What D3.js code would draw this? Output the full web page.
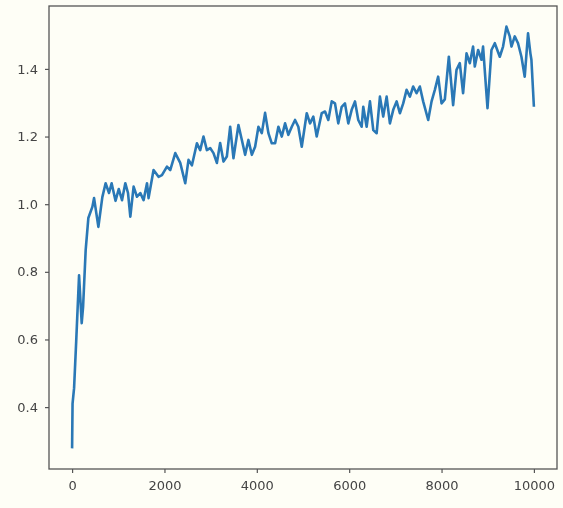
<!DOCTYPE html>
<html>
<head>
<meta charset="utf-8">
<script src="https://cdn.jsdelivr.net/npm/d3@7"></script>
<style>
  body { margin: 0; background: #fefef6; }
  text { font-family: "DejaVu Sans", sans-serif; }
</style>
</head>
<body>
<script>
// step values
var steps = [0, 10, 43, 93, 151, 208, 238, 294, 352, 439, 476, 569, 655, 726, 800, 856, 940, 1010,
  1081, 1152, 1211, 1261, 1332, 1405, 1477, 1548, 1622, 1656, 1764, 1872, 1946, 2054, 2125, 2234,
  2342, 2450, 2521, 2595, 2703, 2774, 2845, 2919, 2990, 3062, 3135, 3206, 3278, 3351, 3423, 3494,
  3602, 3676, 3747, 3818, 3892, 3963, 4035, 4108, 4179, 4251, 4324, 4396, 4467, 4541, 4612, 4683,
  4757, 4828, 4899, 4973, 5081, 5152, 5224, 5297, 5405, 5477, 5548, 5622, 5693, 5764, 5838, 5909,
  5981, 6054, 6126, 6197, 6270, 6305, 6378, 6450, 6522, 6595, 6666, 6737, 6811, 6882, 6954, 7027,
  7098, 7170, 7243, 7315, 7386, 7459, 7530, 7602, 7711, 7784, 7855, 7927, 8000, 8071, 8158, 8251,
  8324, 8395, 8467, 8541, 8612, 8683, 8720, 8792, 8865, 8899, 8995, 9081, 9153, 9261, 9332, 9405,
  9477, 9514, 9585, 9656, 9730, 9801, 9873, 9924, 9946, 10000];

var values = [0.278, 0.41, 0.456, 0.607, 0.79, 0.648, 0.696, 0.864, 0.959, 0.992, 1.018, 0.933, 1.021,
  1.062, 1.033, 1.062, 1.01, 1.045, 1.012, 1.062, 1.033, 0.963, 1.052, 1.022, 1.033, 1.012, 1.062,
  1.018, 1.101, 1.081, 1.086, 1.111, 1.101, 1.151, 1.122, 1.062, 1.131, 1.115, 1.18, 1.16, 1.2, 1.16,
  1.166, 1.151, 1.122, 1.181, 1.126, 1.141, 1.229, 1.136, 1.234, 1.19, 1.146, 1.19, 1.146, 1.17,
  1.229, 1.21, 1.27, 1.21, 1.18, 1.18, 1.229, 1.2, 1.239, 1.205, 1.229, 1.249, 1.229, 1.17, 1.269,
  1.239, 1.259, 1.2, 1.269, 1.274, 1.249, 1.304, 1.298, 1.239, 1.288, 1.298, 1.239, 1.279, 1.304,
  1.249, 1.229, 1.288, 1.229, 1.304, 1.219, 1.21, 1.318, 1.259, 1.318, 1.239, 1.279, 1.304, 1.269,
  1.298, 1.338, 1.318, 1.348, 1.328, 1.348, 1.304, 1.249, 1.304, 1.338, 1.377, 1.298, 1.31, 1.436,
  1.293, 1.397, 1.417, 1.328, 1.446, 1.417, 1.466, 1.407, 1.456, 1.427, 1.466, 1.284, 1.456, 1.476,
  1.436, 1.466, 1.525, 1.496, 1.466, 1.496, 1.476, 1.436, 1.377, 1.505, 1.446, 1.427, 1.288];

var xTicks = [0, 2000, 4000, 6000, 8000, 10000];
var yTicks = [0.4, 0.6, 0.8, 1.0, 1.2, 1.4];

var data = steps.map((s, i) => ({step: s, value: values[i]}));

var width = 563;
var height = 508;
var plot = {left: 49, top: 6, right: 557, bottom: 469};

var svg = d3.select("body")
    .append("svg")
    .attr("width", width)
    .attr("height", height);

// soft edges, the source picture is a blurry screenshot
svg.append("defs")
    .append("filter")
    .attr("id", "soft")
    .append("feGaussianBlur")
    .attr("stdDeviation", 0.45);

svg.append("rect")
    .attr("width", width)
    .attr("height", height)
    .attr("fill", "#fefef6");

const x = d3.scaleLinear()
    .domain([-500, 10500])
    .range([plot.left, plot.right]);

const y = d3.scaleLinear()
    .domain([0.217, 1.586])
    .range([plot.bottom, plot.top]);

var line = d3.line()
    .x(d => x(d.step))
    .y(d => y(d.value));

var g = svg.append("g").attr("filter", "url(#soft)");

g.append("path")
    .datum(data)
    .attr("d", line)
    .attr("fill", "none")
    .attr("stroke", "#2a78b6")
    .attr("stroke-width", 2.6)
    .attr("stroke-linejoin", "round");

var xAxis = d3.axisBottom(x)
    .tickValues(xTicks)
    .tickSize(4)
    .tickPadding(8)
    .tickFormat(d3.format("d"));

var gx = g.append("g")
    .attr("transform", `translate(0, ${plot.bottom})`)
    .call(xAxis);

var yAxis = d3.axisLeft(y)
    .tickValues(yTicks)
    .tickSize(4)
    .tickPadding(7)
    .tickFormat(d3.format(".1f"));

var gy = g.append("g")
    .attr("transform", `translate(${plot.left}, 0)`)
    .call(yAxis);

[gx, gy].forEach(a => {
    a.select(".domain").remove();
    a.selectAll("line").attr("stroke", "#555").attr("stroke-width", 1.2);
    a.selectAll("text")
        .attr("fill", "#444")
        .style("font-size", "13px")
        .style("font-family", "DejaVu Sans, sans-serif");
});

// frame round the plot
g.append("rect")
    .attr("x", plot.left)
    .attr("y", plot.top)
    .attr("width", plot.right - plot.left)
    .attr("height", plot.bottom - plot.top)
    .attr("fill", "none")
    .attr("stroke", "#555")
    .attr("stroke-width", 1.3);
</script>
</body>
</html>
